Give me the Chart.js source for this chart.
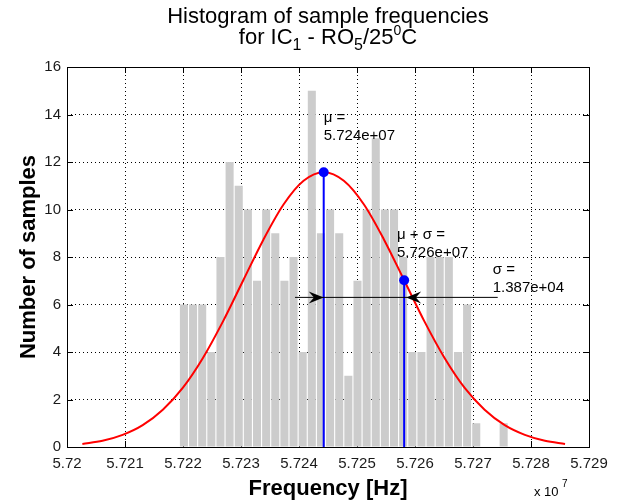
<!DOCTYPE html>
<html>
<head>
<meta charset="utf-8">
<script src="https://cdn.jsdelivr.net/npm/chart.js@4.4.0/dist/chart.umd.min.js"></script>
<style>
  html, body { margin: 0; padding: 0; background: #fff; }
  #wrap { width: 624px; height: 503px; }
</style>
</head>
<body>
<div id="wrap"><canvas id="c" width="624" height="503"></canvas></div>
<script>
// histogram bins (centre frequency in Hz) and sample counts
const binCenters = [
  57220160, 57221735, 57223310, 57224885, 57226460, 57228035, 57229610, 57231185, 57232760,
  57234335, 57235910, 57237485, 57239060, 57240635, 57242210, 57243785, 57245360, 57246935,
  57248510, 57250085, 57251660, 57253235, 57254810, 57256385, 57257960, 57259535, 57261110,
  57262685, 57264260, 57265835, 57267410, 57268985, 57270560, 57272135, 57273710, 57275285
];
const binCounts = [
  6, 6, 6, 4, 8, 12, 11, 10, 7,
  10, 9, 7, 8, 4, 15, 9, 10, 9,
  3, 7, 10, 13, 10, 10, 8, 4, 4,
  8, 8, 8, 4, 6, 1, 0, 0, 1
];

// fitted normal curve
const fitX = [
  57202650, 57206120, 57209590, 57213050, 57216520, 57219990, 57223460, 57226920, 57230390,
  57233860, 57237330, 57240790, 57244260, 57247730, 57251200, 57254660, 57258130, 57261600,
  57265070, 57268530, 57272000, 57275470, 57278940, 57282400, 57285870
];
const fitY = [
  0.13, 0.26, 0.51, 0.92, 1.57, 2.50, 3.76, 5.30, 7.02,
  8.73, 10.21, 11.21, 11.57, 11.21, 10.21, 8.73, 7.02, 5.30,
  3.76, 2.50, 1.57, 0.92, 0.51, 0.26, 0.13
];

// mean and mean + sigma markers
const muX = 57244260, muY = 11.57;
const muSigX = 57258130, muSigY = 7.02;
// sigma arrow
const arrowY = 6.3;
const arrowX = [57239310, 57274260];

// axis ticks
const xMin = 57200000, xMax = 57290000, xStep = 10000;
const yMin = 0, yMax = 16, yStep = 2;

const FONT = '"Liberation Sans", Arial, Helvetica, sans-serif';

function richLine(ctx, parts, cx, base) {
  let w = 0;
  parts.forEach(p => {
    ctx.font = (p.bold ? 'bold ' : '') + p.size + 'px ' + FONT;
    p.w = ctx.measureText(p.t).width;
    w += p.w;
  });
  let x = cx - w / 2;
  parts.forEach(p => {
    ctx.font = (p.bold ? 'bold ' : '') + p.size + 'px ' + FONT;
    ctx.fillText(p.t, x, base + (p.dy || 0));
    x += p.w;
  });
}

function arrowHead(ctx, tx, ty, dir) {
  const L = 15, W = 12;
  ctx.beginPath();
  ctx.moveTo(tx, ty);
  ctx.lineTo(tx - dir * L, ty - W / 2);
  ctx.lineTo(tx - dir * L * 0.65, ty);
  ctx.lineTo(tx - dir * L, ty + W / 2);
  ctx.closePath();
  ctx.fill();
}

// inward tick marks (under the bars, like matlab's bottom layer)
const tickPlugin = {
  id: 'inTicks',
  beforeDatasetsDraw(chart) {
    const {ctx, chartArea: a, scales: {x, y}} = chart;
    ctx.save();
    ctx.strokeStyle = '#000';
    ctx.lineWidth = 1;
    ctx.beginPath();
    for (let v = xMin; v <= xMax; v += xStep) {
      const px = Math.round(x.getPixelForValue(v)) + 0.5;
      ctx.moveTo(px, a.bottom); ctx.lineTo(px, a.bottom - 6);
      ctx.moveTo(px, a.top); ctx.lineTo(px, a.top + 6);
    }
    for (let v = yMin; v <= yMax; v += yStep) {
      const py = Math.round(y.getPixelForValue(v)) + 0.5;
      ctx.moveTo(a.left, py); ctx.lineTo(a.left + 6, py);
      ctx.moveTo(a.right, py); ctx.lineTo(a.right - 6, py);
    }
    ctx.stroke();
    ctx.restore();
  }
};

const textPlugin = {
  id: 'texts',
  afterDraw(chart) {
    const {ctx, chartArea: a, scales: {x, y}} = chart;
    ctx.save();
    // axes box
    ctx.strokeStyle = '#000';
    ctx.lineWidth = 1;
    ctx.strokeRect(Math.round(a.left) + 0.5, Math.round(a.top) + 0.5,
      Math.round(a.right - a.left), Math.round(a.bottom - a.top));

    // arrow heads
    ctx.fillStyle = '#000';
    const ay = y.getPixelForValue(arrowY);
    arrowHead(ctx, x.getPixelForValue(muX), ay, 1);
    arrowHead(ctx, x.getPixelForValue(muSigX) + 2, ay, -1);

    // annotations
    ctx.font = '15px ' + FONT;
    ctx.textAlign = 'left';
    ctx.textBaseline = 'alphabetic';
    const note = (lines, vx, vy) => {
      const px = x.getPixelForValue(vx), py = y.getPixelForValue(vy);
      lines.forEach((s, i) => ctx.fillText(s, px, py + i * 18));
    };
    note(['\u03bc =', '5.724e+07'], 57244260, 13.7);
    note(['\u03bc + \u03c3 =', '5.726e+07'], 57256900, 8.74);
    note(['\u03c3 =', '1.387e+04'], 57273400, 7.3);

    // title
    ctx.textAlign = 'left';
    const cx = (a.left + a.right) / 2;
    richLine(ctx, [{t: 'Histogram of sample frequencies', size: 22}], cx, 23);
    richLine(ctx, [
      {t: 'for IC', size: 22}, {t: '1', size: 16, dy: 6},
      {t: ' - RO', size: 22}, {t: '5', size: 16, dy: 6},
      {t: '/25', size: 22}, {t: '0', size: 14, dy: -9},
      {t: 'C', size: 22}
    ], cx, 44);

    // axis titles
    richLine(ctx, [{t: 'Frequency [Hz]', size: 22, bold: true}], cx, 495);
    ctx.save();
    ctx.translate(35, (a.top + a.bottom) / 2);
    ctx.rotate(-Math.PI / 2);
    richLine(ctx, [{t: 'Number of samples', size: 22, bold: true}], 0, 0);
    ctx.restore();

    // exponent label
    ctx.font = '13px ' + FONT;
    ctx.fillText('x 10', 534, 496);
    ctx.font = '10px ' + FONT;
    ctx.fillText('7', 562, 487);
    ctx.restore();
  }
};

const ctx = document.getElementById('c').getContext('2d');
new Chart(ctx, {
  type: 'bar',
  data: {
    datasets: [
      {
        type: 'line',
        data: arrowX.map(v => ({x: v, y: arrowY})),
        borderColor: '#000',
        borderWidth: 1,
        pointRadius: 0,
        order: 1
      },
      {
        type: 'line',
        data: [{x: muX, y: 0}, {x: muX, y: muY}],
        borderColor: '#0000ff',
        backgroundColor: '#0000ff',
        borderWidth: 2,
        pointRadius: [0, 5],
        pointBorderWidth: 0,
        order: 2
      },
      {
        type: 'line',
        data: [{x: muSigX, y: 0}, {x: muSigX, y: muSigY}],
        borderColor: '#0000ff',
        backgroundColor: '#0000ff',
        borderWidth: 2,
        pointRadius: [0, 5],
        pointBorderWidth: 0,
        order: 2
      },
      {
        type: 'line',
        data: fitX.map((v, i) => ({x: v, y: fitY[i]})),
        borderColor: '#ff0000',
        borderWidth: 2,
        pointRadius: 0,
        cubicInterpolationMode: 'monotone',
        order: 3
      },
      {
        type: 'bar',
        data: binCenters.map((v, i) => ({x: v, y: binCounts[i]})),
        backgroundColor: '#cccccc',
        borderWidth: 0,
        barPercentage: 0.88,
        categoryPercentage: 1.0,
        order: 4
      }
    ]
  },
  options: {
    responsive: false,
    animation: false,
    devicePixelRatio: 1,
    layout: { padding: { top: 67, right: 35, left: 0, bottom: 0 } },
    plugins: {
      legend: { display: false },
      tooltip: { enabled: false },
      title: { display: false }
    },
    scales: {
      x: {
        type: 'linear',
        offset: false,
        min: xMin,
        max: xMax,
        afterFit: s => { s.height = 56; },
        ticks: {
          stepSize: xStep,
          autoSkip: false,
          maxRotation: 0,
          padding: 8,
          color: '#1a1a1a',
          font: { family: FONT, size: 15 },
          callback: v => String(Number((v / 1e7).toFixed(3)))
        },
        grid: { offset: false, color: '#000', lineWidth: 1, drawTicks: false },
        border: { display: false, dash: [1, 3] }
      },
      y: {
        min: yMin,
        max: yMax,
        afterFit: s => { s.width = 67; },
        ticks: {
          stepSize: yStep,
          padding: 6,
          color: '#1a1a1a',
          font: { family: FONT, size: 15 }
        },
        grid: { color: '#000', lineWidth: 1, drawTicks: false },
        border: { display: false, dash: [1, 3] }
      }
    }
  },
  plugins: [tickPlugin, textPlugin]
});
</script>
</body>
</html>
